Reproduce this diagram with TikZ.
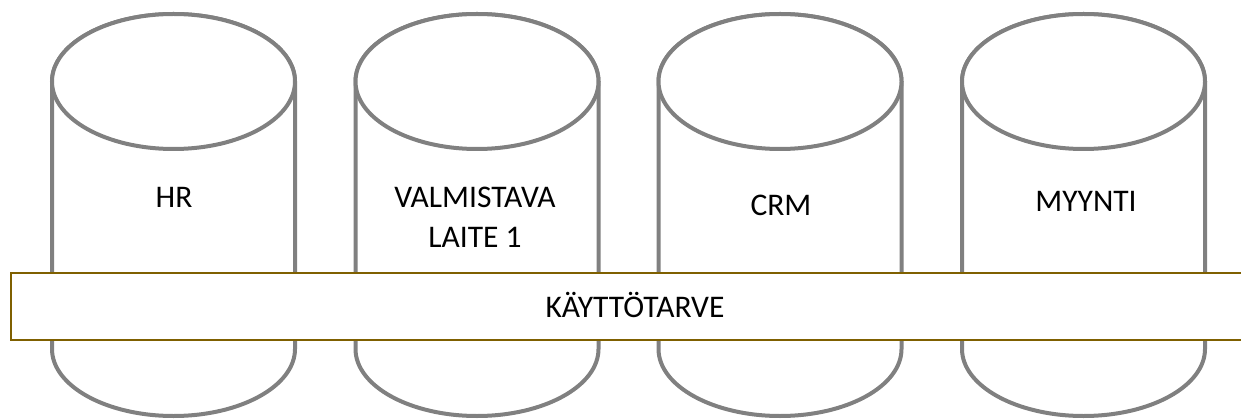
\documentclass[tikz,border=0pt]{standalone}
\usepackage{fontspec}
\setmainfont{Carlito}
\definecolor{cylgray}{HTML}{808080}
\definecolor{bandbrown}{HTML}{7F6000}
\begin{document}
\begin{tikzpicture}[x=1pt,y=1pt,
  cyl/.style={draw=cylgray,line width=4pt,fill=white},
  lbl/.style={anchor=base,align=center,font=\fontsize{31.5}{40}\selectfont,inner sep=0pt,text=black},
  bandbox/.style={draw=bandbrown,line width=2pt,fill=white,rectangle,inner sep=0pt}]
\useasboundingbox (0,0) rectangle (1241,418);
\clip (0,0) rectangle (1241,418);
\def\rx{121.5}
\foreach \cx in {173.5,477,780,1083.5}{
  \draw[cyl] (\cx-\rx,336.5) -- (\cx-\rx,69)
     arc[start angle=180,end angle=360,x radius=\rx,y radius=67]
     -- (\cx+\rx,336.5)
     arc[start angle=0,end angle=180,x radius=\rx,y radius=67.5] -- cycle;
  \draw[cyl] (\cx,336.5) ellipse[x radius=\rx,y radius=67.5];
}
\node[lbl] (hr) at (174,210) {HR};
\node[lbl] (valm) at (475,171) {VALMISTAVA\\LAITE 1};
\node[lbl] (crm) at (781,202) {CRM};
\node[lbl] (myynti) at (1086,206) {MYYNTI};
\node[bandbox,minimum width=1300pt,minimum height=67pt] (band) at (661,111.5) {};
\node[lbl] (bandtext) at (635,101) {KÄYTTÖTARVE};
\end{tikzpicture}
\end{document}
